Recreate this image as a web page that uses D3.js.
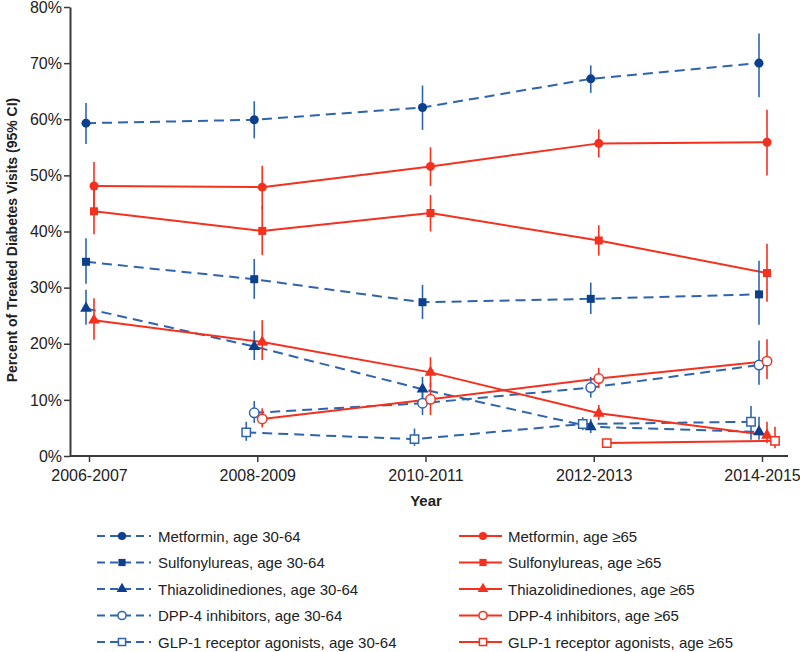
<!DOCTYPE html>
<html><head><meta charset="utf-8">
<script src="https://cdn.jsdelivr.net/npm/d3@7"></script>
<style>body{margin:0;background:#fff}svg{display:block;font-family:"Liberation Sans",Arial,sans-serif}</style>
</head><body><svg id="c" width="800" height="652"></svg>
<script>
const years = ["2006-2007","2008-2009","2010-2011","2012-2013","2014-2015"];
const yTicks = [0,10,20,30,40,50,60,70,80];

// Metformin
const metYoung   = [59.3,59.9,62.1,67.2,70.0];
const metYoungLo = [55.6,56.6,58.1,64.7,63.9];
const metYoungHi = [62.9,63.2,66.0,69.6,75.3];
const metOld     = [48.1,47.9,51.6,55.7,55.9];
const metOldLo   = [44.0,44.0,48.1,53.2,50.0];
const metOldHi   = [52.4,51.7,55.0,58.2,61.7];
// Sulfonylureas
const sulYoung   = [34.6,31.5,27.4,28.0,28.8];
const sulYoungLo = [30.7,28.0,24.4,25.3,23.4];
const sulYoungHi = [38.8,35.1,30.5,30.9,34.8];
const sulOld     = [43.6,40.1,43.3,38.4,32.6];
const sulOldLo   = [39.5,35.8,40.0,35.7,27.5];
const sulOldHi   = [47.5,44.5,46.5,41.1,37.8];
// Thiazolidinediones
const tzdYoung   = [26.3,19.5,11.9,5.2,4.3];
const tzdYoungLo = [23.4,17.1,9.5,4.1,2.9];
const tzdYoungHi = [29.6,22.3,14.1,6.6,7.0];
const tzdOld     = [24.2,20.3,14.9,7.6,3.7];
const tzdOldLo   = [20.7,17.1,12.3,6.4,2.3];
const tzdOldHi   = [28.1,24.2,17.6,9.1,6.1];
// DPP-4 inhibitors
const dppYoung   = [null,7.7,9.4,12.2,16.2];
const dppYoungLo = [null,5.9,7.3,10.4,12.7];
const dppYoungHi = [null,9.8,11.5,14.1,20.6];
const dppOld     = [null,6.6,10.1,13.8,16.9];
const dppOldLo   = [null,5.1,7.3,12.1,13.7];
const dppOldHi   = [null,8.5,13.0,15.7,20.8];
// GLP-1 receptor agonists
const glpYoung   = [null,4.2,3.0,5.7,6.1];
const glpYoungLo = [null,2.7,1.8,4.6,2.9];
const glpYoungHi = [null,6.1,4.9,6.9,8.9];
const glpOld     = [null,null,null,2.3,2.7];
const glpOldLo   = [null,null,null,2.3,1.4];
const glpOldHi   = [null,null,null,2.3,5.2];

const BLUE_LINE = "#2f64ad", BLUE_MARK = "#0d3f8c", RED = "#f4301f";

const series = [
  {name:"Metformin, age 30-64", v:metYoung, lo:metYoungLo, hi:metYoungHi, grp:"y", sym:d3.symbolCircle, open:false, dx:-3},
  {name:"Sulfonylureas, age 30-64", v:sulYoung, lo:sulYoungLo, hi:sulYoungHi, grp:"y", sym:d3.symbolSquare, open:false, dx:-3},
  {name:"Thiazolidinediones, age 30-64", v:tzdYoung, lo:tzdYoungLo, hi:tzdYoungHi, grp:"y", sym:d3.symbolTriangle, open:false, dx:-3},
  {name:"DPP-4 inhibitors, age 30-64", v:dppYoung, lo:dppYoungLo, hi:dppYoungHi, grp:"y", sym:d3.symbolCircle, open:true, dx:-3},
  {name:"GLP-1 receptor agonists, age 30-64", v:glpYoung, lo:glpYoungLo, hi:glpYoungHi, grp:"y", sym:d3.symbolSquare, open:true, dx:-11},
  {name:"Metformin, age \u226565", v:metOld, lo:metOldLo, hi:metOldHi, grp:"o", sym:d3.symbolCircle, open:false, dx:5},
  {name:"Sulfonylureas, age \u226565", v:sulOld, lo:sulOldLo, hi:sulOldHi, grp:"o", sym:d3.symbolSquare, open:false, dx:5},
  {name:"Thiazolidinediones, age \u226565", v:tzdOld, lo:tzdOldLo, hi:tzdOldHi, grp:"o", sym:d3.symbolTriangle, open:false, dx:5},
  {name:"DPP-4 inhibitors, age \u226565", v:dppOld, lo:dppOldLo, hi:dppOldHi, grp:"o", sym:d3.symbolCircle, open:true, dx:5},
  {name:"GLP-1 receptor agonists, age \u226565", v:glpOld, lo:glpOldLo, hi:glpOldHi, grp:"o", sym:d3.symbolSquare, open:true, dx:13}
];

const svg = d3.select("#c");
const x = d3.scalePoint().domain(years).range([89, 762]);
const y = d3.scaleLinear().domain([0, 80]).range([456, 7]);
const AX = "#3a3a3a", TXT = "#222";

// Y axis
const yAxis = svg.append("g").attr("transform","translate(70,0)")
  .call(d3.axisLeft(y).tickValues(yTicks).tickFormat(d => d + "%").tickSize(6).tickSizeOuter(0));
yAxis.select(".domain").attr("stroke", AX).attr("stroke-width", 2);
yAxis.selectAll(".tick line").attr("stroke", AX).attr("stroke-width", 1.5);
yAxis.selectAll(".tick text").attr("fill", TXT).attr("font-size", 16).attr("x", -8)
  .attr("font-family","Liberation Sans, Arial, sans-serif");

// X axis
const xAxis = svg.append("g").attr("transform","translate(0,456)")
  .call(d3.axisBottom(x).tickSize(6).tickSizeOuter(0));
xAxis.select(".domain").remove();
xAxis.append("line").attr("x1",70).attr("x2",788).attr("y1",0).attr("y2",0).attr("stroke",AX).attr("stroke-width",2);
xAxis.selectAll(".tick line").attr("stroke", AX).attr("stroke-width", 1.5);
xAxis.selectAll(".tick text").attr("fill", TXT).attr("font-size", 16).attr("y", 14)
  .attr("font-family","Liberation Sans, Arial, sans-serif");

svg.append("text").attr("x", 426).attr("y", 506).attr("text-anchor","middle")
  .attr("font-size", 15).attr("font-weight","bold").attr("fill", TXT).text("Year");
svg.append("text").attr("transform","translate(17,240) rotate(-90)").attr("text-anchor","middle")
  .attr("font-size", 14).attr("font-weight","bold").attr("fill", TXT)
  .text("Percent of Treated Diabetes Visits (95% CI)");

const plot = svg.append("g");
const lineGen = dx => d3.line().defined(d => d.v != null).x(d => x(d.yr) + dx).y(d => y(d.v));

function pts(s){ return years.map((yr,i) => ({yr, v:s.v[i], lo:s.lo[i], hi:s.hi[i]})); }

series.forEach(s => {
  const lc = s.grp === "y" ? BLUE_LINE : RED;
  plot.append("path").datum(pts(s)).attr("d", lineGen(s.dx))
    .attr("fill","none").attr("stroke", lc).attr("stroke-width", 2)
    .attr("stroke-dasharray", s.grp === "y" ? "10,6" : null);
});
series.forEach(s => {
  const lc = s.grp === "y" ? BLUE_LINE : RED;
  plot.append("g").selectAll("line").data(pts(s).filter(d => d.v != null && d.hi != null)).join("line")
    .attr("x1", d => x(d.yr) + s.dx).attr("x2", d => x(d.yr) + s.dx)
    .attr("y1", d => y(d.hi)).attr("y2", d => y(d.lo))
    .attr("stroke", lc).attr("stroke-width", 1.6);
});
series.forEach(s => {
  const mc = s.grp === "y" ? BLUE_MARK : RED;
  const lc = s.grp === "y" ? BLUE_LINE : RED;
  const size = s.sym === d3.symbolTriangle ? 60 : (s.open ? 70 : 64);
  plot.append("g").selectAll("path").data(pts(s).filter(d => d.v != null)).join("path")
    .attr("transform", d => `translate(${x(d.yr) + s.dx},${y(d.v)})`)
    .attr("d", d3.symbol().type(s.sym).size(size))
    .attr("fill", s.open ? "#fff" : mc)
    .attr("stroke", s.open ? lc : "none").attr("stroke-width", 1.5);
});

// Legend
const rowY = d3.scaleLinear().domain([0, 4]).range([536, 642]);
const cols = [{grp:"y", x1:97, x2:151, mx:122, tx:158}, {grp:"o", x1:459, x2:502, mx:483, tx:508}];
cols.forEach(c => {
  const items = series.filter(s => s.grp === c.grp);
  items.forEach((s, i) => {
    const g = svg.append("g").attr("transform", `translate(0,${rowY(i)})`);
    const lc = c.grp === "y" ? BLUE_LINE : RED;
    const mc = c.grp === "y" ? BLUE_MARK : RED;
    g.append("line").attr("x1", c.x1).attr("x2", c.x2).attr("y1",0).attr("y2",0)
      .attr("stroke", lc).attr("stroke-width", 2)
      .attr("stroke-dasharray", c.grp === "y" ? "8,5" : null);
    g.append("path").attr("transform", `translate(${c.mx},0)`)
      .attr("d", d3.symbol().type(s.sym).size(s.sym === d3.symbolTriangle ? 50 : 52))
      .attr("fill", s.open ? "#fff" : mc).attr("stroke", s.open ? lc : "none").attr("stroke-width", 1.5);
    g.append("text").attr("x", c.tx).attr("y", 5.5).attr("font-size", 15).attr("fill", TXT).text(s.name);
  });
});
</script></body></html>
